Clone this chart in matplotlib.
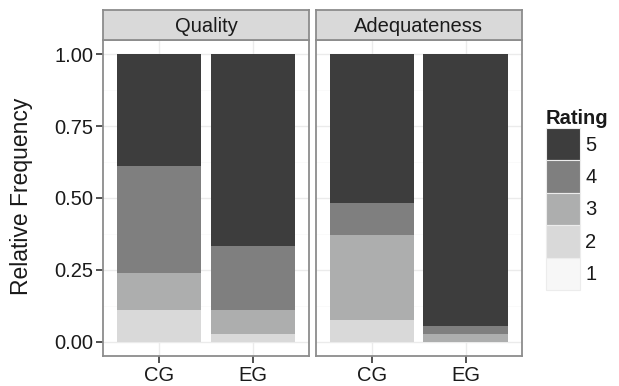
import numpy as np
import matplotlib
matplotlib.use('Agg')
import matplotlib.pyplot as plt
from matplotlib.patches import Patch

plt.rcParams['font.family'] = ['Liberation Sans', 'DejaVu Sans']

# dane
grupy = ['CG', 'EG']
aspekty = ['Quality', 'Adequateness']
oceny = ['1', '2', '3', '4', '5']
quality_cg = [0.0, 0.111, 0.129, 0.370, 0.390]
quality_eg = [0.0, 0.028, 0.083, 0.222, 0.667]
adeq_cg = [0.0, 0.074, 0.296, 0.111, 0.519]
adeq_eg = [0.0, 0.0, 0.028, 0.028, 0.944]
dane = {'Quality': [quality_cg, quality_eg], 'Adequateness': [adeq_cg, adeq_eg]}

kolory = ['#f7f7f7', '#d9d9d9', '#adaeae', '#7f7f7f', '#3d3d3d']

W, H = 619, 386
fig = plt.figure(figsize=(W / 100, H / 100), dpi=100)

def px(x0, y0, x1, y1):
    return [x0 / W, 1 - y1 / H, (x1 - x0) / W, (y1 - y0) / H]

panele = [(103, 309), (315.5, 522)]
ramka = '#8c8c8c'
tekst = '#1a1a1a'
fs = 14.5

for i, (asp, (x0, x1)) in enumerate(zip(aspekty, panele)):
    ax = fig.add_axes(px(x0, 40, x1, 356))
    ax.set_xlim(0.4, 2.6)
    ax.set_ylim(-0.05, 1.05)
    # siatka
    for y in [0.125, 0.375, 0.625, 0.875]:
        ax.axhline(y, color='#fafafa', lw=0.6, zorder=0)
    for y in [0, 0.25, 0.5, 0.75, 1.0]:
        ax.axhline(y, color='#ebebeb', lw=1.0, zorder=0)
    for x in [1, 2]:
        ax.axvline(x, color='#ebebeb', lw=1.0, zorder=0)
    pos = np.arange(1, len(grupy) + 1)
    bottom = np.zeros(len(grupy))
    for k in range(len(oceny)):
        vals = np.array([dane[asp][g][k] for g in range(len(grupy))])
        ax.bar(pos, vals, width=0.9, bottom=bottom, color=kolory[k], zorder=2)
        bottom += vals
    ax.set_xticks(pos)
    ax.set_xticklabels(grupy, fontsize=fs, color=tekst)
    ax.tick_params(axis='x', length=5, width=1.2, color='#333333', pad=2)
    if i == 0:
        ax.set_yticks([0, 0.25, 0.5, 0.75, 1.0])
        ax.set_yticklabels(['0.00', '0.25', '0.50', '0.75', '1.00'], fontsize=fs, color=tekst)
        ax.tick_params(axis='y', length=5, width=1.2, color='#333333', pad=2)
    else:
        ax.set_yticks([])
    for s in ax.spines.values():
        s.set_color(ramka)
        s.set_linewidth(1.3)

    # pasek z tytulem panelu
    st = fig.add_axes(px(x0, 10, x1, 40))
    st.set_xticks([])
    st.set_yticks([])
    st.set_facecolor('#d9d9d9')
    for s in st.spines.values():
        s.set_color(ramka)
        s.set_linewidth(1.3)
    st.text(0.5, 0.45, asp, ha='center', va='center', fontsize=fs, color=tekst,
            transform=st.transAxes)

fig.text(28 / W, 1 - 196 / H, 'Relative Frequency', rotation=90, rotation_mode='anchor',
         ha='center', va='baseline', fontsize=16.5, color=tekst)

# legenda
uchwyty = [Patch(facecolor=kolory[k], edgecolor='#ececec', lw=0.8, label=oceny[k])
           for k in range(len(oceny) - 1, -1, -1)]
leg = fig.legend(handles=uchwyty, title='Rating', loc='upper left',
                 bbox_to_anchor=(546 / W, 1 - 109 / H), frameon=False,
                 fontsize=fs, title_fontsize=fs, handlelength=1.7,
                 handleheight=2.1, labelspacing=0.0, handletextpad=0.25,
                 borderaxespad=0, borderpad=0, alignment='left')
leg.get_title().set_fontweight('bold')
leg.get_title().set_color(tekst)
for t in leg.get_texts():
    t.set_color(tekst)

fig.savefig('out.png', dpi=100)
